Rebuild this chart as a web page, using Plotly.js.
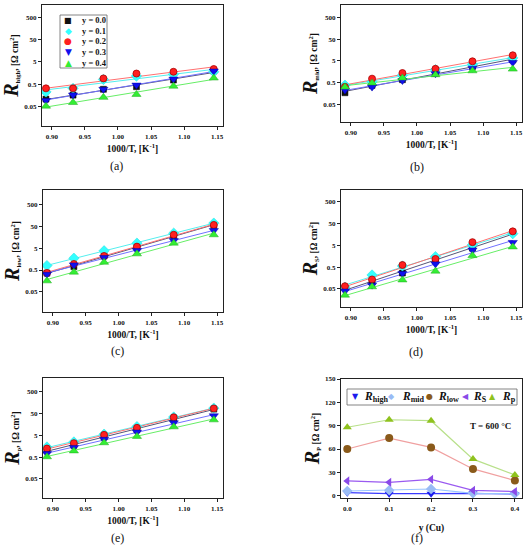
<!DOCTYPE html>
<html>
<head>
<meta charset="utf-8">
<script src="https://cdn.plot.ly/plotly-3.0.1.min.js"></script>
<style>html,body{margin:0;padding:0;background:#fff;}#chart{width:528px;height:550px;}</style>
</head>
<body>
<div id="chart"></div>
<script>
// ---------- DATA ----------
const invT = [0.891, 0.932, 0.978, 1.028, 1.084, 1.145];
const seriesNames = ['y = 0.0', 'y = 0.1', 'y = 0.2', 'y = 0.3', 'y = 0.4'];
// rows: y = 0.0, 0.1, 0.2, 0.3, 0.4
const rHigh = [
  [0.104, 0.158, 0.29, 0.38, 0.76, 1.95],
  [0.22, 0.32, 0.81, 1.15, 1.4, 1.8],
  [0.32, 0.32, 0.9, 1.5, 1.8, 2.4],
  [0.09, 0.16, 0.29, 0.45, 0.84, 1.95],
  [0.05, 0.073, 0.125, 0.17, 0.4, 0.94]
];
const rMid = [
  [0.17, 0.37, 0.68, 1.33, 2.75, 5.5],
  [0.38, 0.54, 1.08, 1.95, 3.5, 6.9],
  [0.32, 0.76, 1.38, 2.16, 4.8, 9.1],
  [0.23, 0.31, 0.62, 1.28, 2.3, 4.2],
  [0.31, 0.48, 0.82, 1.15, 1.75, 2.1]
];
const rLow = [
  [0.36, 0.72, 2.2, 5.5, 19, 55],
  [0.8, 1.74, 3.8, 8.5, 24.3, 70],
  [0.37, 0.95, 2.2, 5.9, 20.5, 58],
  [0.32, 0.86, 1.87, 3.9, 11.2, 32],
  [0.16, 0.4, 1.14, 2.75, 8.5, 20.5]
];
const rS = [
  [0.056, 0.107, 0.27, 0.97, 3.75, 20],
  [0.06, 0.22, 0.57, 1.54, 5.4, 17.4],
  [0.067, 0.137, 0.63, 1.2, 7.1, 22.3],
  [0.04, 0.075, 0.26, 0.71, 3.1, 6.9],
  [0.026, 0.063, 0.13, 0.33, 1.72, 4.3]
];
const rP = [
  [1.04, 1.76, 4.2, 9.1, 28.6, 81],
  [1.47, 2.5, 5.7, 12.7, 35, 90],
  [1.25, 2.2, 5.3, 11.2, 34, 87],
  [0.73, 1.4, 3.3, 7.1, 19, 40],
  [0.52, 0.97, 2.3, 4.5, 12.4, 26]
];
// panel (f): T = 600 °C
const cuY = [0.0, 0.1, 0.2, 0.3, 0.4];
const fHigh = [3.9, 2.6, 2.6, 3.0, 2.0];
const fMid = [6.0, 7.0, 8.6, 3.0, 2.6];
const fLow = [60, 74, 62, 34.4, 19.4];
const fS = [19, 17.2, 21, 6.9, 5.2];
const fP = [88, 97.6, 96.4, 47, 26.7];
const fNames = ['high', 'mid', 'low', 'S', 'p'];
const logTickVals = [0.05, 0.5, 5, 50, 500];
const logTickText = ['0.05', '0.5', '5', '50', '500'];

// ---------- STYLE ----------
const SERIF = 'Liberation Serif, Times New Roman, serif';
const SYMF = 'DejaVu Sans, sans-serif';
const mStyle = [
  {symbol: 'square', color: '#111111', size: 6, line: {color: '#000', width: 0.5}},
  {symbol: 'diamond', color: '#33ffff', size: 8, line: {color: '#22dddd', width: 0.5}},
  {symbol: 'circle', color: '#ff2020', size: 7, line: {color: '#aa0000', width: 0.8}},
  {symbol: 'triangle-down', color: '#1010ee', size: 8, line: {color: '#0000aa', width: 0.5}},
  {symbol: 'triangle-up', color: '#33ee33', size: 8, line: {color: '#22aa22', width: 0.5}}
];
const glyphA = ['■', '◆', '●', '▼', '▲'];
const lineCol = ['#555577', '#55eeee', '#ff7070', '#7070ff', '#66ee66'];
const fStyle = [
  {sym: 'triangle-down', glyph: '▼', mc: '#1a1aee', lc: '#3a3aff'},
  {sym: 'diamond', glyph: '◆', mc: '#99bbf5', lc: '#99c4ff'},
  {sym: 'circle', glyph: '●', mc: '#8a5a1a', lc: '#f0a0a0'},
  {sym: 'triangle-left', glyph: '◀', mc: '#8a4ae8', lc: '#9a5af0'},
  {sym: 'triangle-up', glyph: '▲', mc: '#8fc21e', lc: '#b8e08a'}
];

function fit(x, y) {
  const ly = y.map(v => Math.log10(v));
  const n = x.length;
  const mx = x.reduce((a, b) => a + b, 0) / n;
  const my = ly.reduce((a, b) => a + b, 0) / n;
  let sxy = 0, sxx = 0;
  for (let i = 0; i < n; i++) { sxy += (x[i] - mx) * (ly[i] - my); sxx += (x[i] - mx) ** 2; }
  const b = sxy / sxx, a = my - b * mx;
  const xs = [x[0], x[n - 1]];
  return {x: xs, y: xs.map(v => Math.pow(10, a + b * v))};
}

const traces = [];
const panels = [rHigh, rMid, rLow, rS, rP];
panels.forEach((data, p) => {
  const xa = p === 0 ? 'x' : 'x' + (p + 1);
  const ya = p === 0 ? 'y' : 'y' + (p + 1);
  data.forEach((row, s) => {
    const f = fit(invT, row);
    traces.push({x: f.x, y: f.y, xaxis: xa, yaxis: ya, mode: 'lines',
      line: {color: lineCol[s], width: 1}, showlegend: false, hoverinfo: 'skip'});
  });
  data.forEach((row, s) => {
    traces.push({x: invT, y: row, xaxis: xa, yaxis: ya, mode: 'markers',
      name: seriesNames[s], marker: mStyle[s], showlegend: false});
  });
});
[fHigh, fMid, fLow, fS, fP].forEach((vals, i) => {
  const s = fStyle[i];
  traces.push({x: cuY, y: vals, xaxis: 'x6', yaxis: 'y6', mode: 'lines+markers',
    name: 'R' + fNames[i], showlegend: false, line: {color: s.lc, width: 1.2},
    marker: {symbol: s.sym, color: s.mc, size: 8}});
});

// ---------- LAYOUT ----------
const W = 528, H = 550;
const px = v => v / W, py = v => 1 - v / H;
const dx = (a, b) => [a / W, b / W];
const dy = (t, b) => [1 - b / H, 1 - t / H];
const tickFont = {family: SERIF, size: 7, color: '#111', weight: 'bold'};
const titleFont = {family: SERIF, size: 9.5, color: '#111', weight: 'bold'};
const axisBase = {showline: true, mirror: true, linecolor: '#222', linewidth: 1.2, ticks: 'outside',
  ticklen: 3, tickwidth: 1, tickcolor: '#222', showgrid: false, zeroline: false, tickfont: tickFont};
function xInvAxis(dom, anchor) {
  return Object.assign({}, axisBase, {domain: dom, anchor: anchor, range: [0.885, 1.159],
    tickvals: [0.90, 0.95, 1.00, 1.05, 1.10, 1.15], ticktext: ['0.90', '0.95', '1.00', '1.05', '1.10', '1.15'],
    title: {text: '1000/T, [K<sup>-1</sup>]', font: titleFont, standoff: 5}});
}
function yLogAxis(dom, anchor, rng, sub) {
  return Object.assign({}, axisBase, {domain: dom, anchor: anchor, type: 'log', range: rng,
    tickvals: logTickVals, ticktext: logTickText,
    title: {text: '<span style="font-size:20px"><i>R</i></span><sub>' + sub + '</sub>, [Ω cm<sup>2</sup>]', font: titleFont, standoff: 3}});
}

const annotations = [];
const lbl = (t, x, y) => annotations.push({text: t, x: px(x), y: py(y), xref: 'paper', yref: 'paper',
  xanchor: 'center', yanchor: 'middle', showarrow: false, font: {family: SERIF, size: 12, color: '#111'}});
lbl('(a)', 116, 166); lbl('(b)', 417, 167); lbl('(c)', 117, 351);
lbl('(d)', 416, 352); lbl('(e)', 117, 538); lbl('(f)', 417, 538);
annotations.push({text: 'T = 600 °C', x: px(490), y: py(426), xref: 'paper', yref: 'paper',
  xanchor: 'center', yanchor: 'middle', showarrow: false, font: {family: SERIF, size: 9, weight: 'bold', color: '#111'}});

// legend of panel (a)
const legAy = [20.5, 31, 41.5, 52, 62.5];
seriesNames.forEach((nm, i) => {
  annotations.push({text: glyphA[i], x: px(68), y: py(legAy[i]), xref: 'paper', yref: 'paper',
    xanchor: 'center', yanchor: 'middle', showarrow: false,
    font: {family: SYMF, size: i === 0 ? 8 : 9, color: mStyle[i].color}});
  annotations.push({text: nm, x: px(80), y: py(legAy[i]), xref: 'paper', yref: 'paper',
    xanchor: 'left', yanchor: 'middle', showarrow: false,
    font: {family: SERIF, size: 8.5, weight: 'bold', color: '#111'}});
});
// legend of panel (f)
const legFg = [355, 391, 429, 465, 492];
const legFt = [362, 400, 436, 471, 500];
fNames.forEach((nm, i) => {
  annotations.push({text: fStyle[i].glyph, x: px(legFg[i]), y: py(396.5), xref: 'paper', yref: 'paper',
    xanchor: 'center', yanchor: 'middle', showarrow: false,
    font: {family: SYMF, size: 8, color: fStyle[i].mc}});
  annotations.push({text: '<i>R</i><sub>' + nm + '</sub>', x: px(legFt[i]), y: py(396.5), xref: 'paper', yref: 'paper',
    xanchor: 'left', yanchor: 'middle', showarrow: false,
    font: {family: SERIF, size: 11.5, weight: 'bold', color: '#111'}});
});

const shapes = [
  {type: 'rect', xref: 'paper', yref: 'paper', x0: px(60), x1: px(107), y0: py(68), y1: py(15),
    line: {color: '#666', width: 0.8}},
  {type: 'rect', xref: 'paper', yref: 'paper', x0: px(347), x1: px(517), y0: py(405), y1: py(389),
    line: {color: '#666', width: 0.8}}
];

const layout = {
  width: W, height: H, margin: {l: 0, r: 0, t: 0, b: 0}, paper_bgcolor: '#fff', plot_bgcolor: '#fff',
  font: {family: SERIF, color: '#111'}, showlegend: false,
  xaxis: xInvAxis(dx(42, 223), 'y'),
  yaxis: yLogAxis(dy(5, 126), 'x', [-2.2, 3.28], 'high'),
  xaxis2: xInvAxis(dx(341, 522), 'y2'),
  yaxis2: yLogAxis(dy(5, 122), 'x2', [-2.12, 3.28], 'mid'),
  xaxis3: xInvAxis(dx(43, 223), 'y3'),
  yaxis3: yLogAxis(dy(190, 312), 'x3', [-2.22, 3.36], 'low'),
  xaxis4: xInvAxis(dx(341, 522), 'y4'),
  yaxis4: yLogAxis(dy(190, 307), 'x4', [-2.13, 3.25], 'S'),
  xaxis5: xInvAxis(dx(43, 223), 'y5'),
  yaxis5: yLogAxis(dy(378, 498), 'x5', [-2.18, 3.34], 'p'),
  xaxis6: Object.assign({}, axisBase, {domain: dx(341, 522), anchor: 'y6', range: [-0.015, 0.417],
    tickvals: cuY, ticktext: ['0.0', '0.1', '0.2', '0.3', '0.4'],
    title: {text: 'y (Cu)', font: titleFont, standoff: 12}}),
  yaxis6: Object.assign({}, axisBase, {domain: dy(379, 498), anchor: 'x6', range: [-3, 150],
    tickvals: [0, 30, 60, 90, 120, 150],
    title: {text: '<span style="font-size:20px"><i>R</i></span><sub>P</sub> [Ω cm<sup>2</sup>]', font: titleFont, standoff: 3}}),
  annotations: annotations,
  shapes: shapes
};

Plotly.newPlot('chart', traces, layout, {staticPlot: true, displayModeBar: false});
</script>
</body>
</html>
